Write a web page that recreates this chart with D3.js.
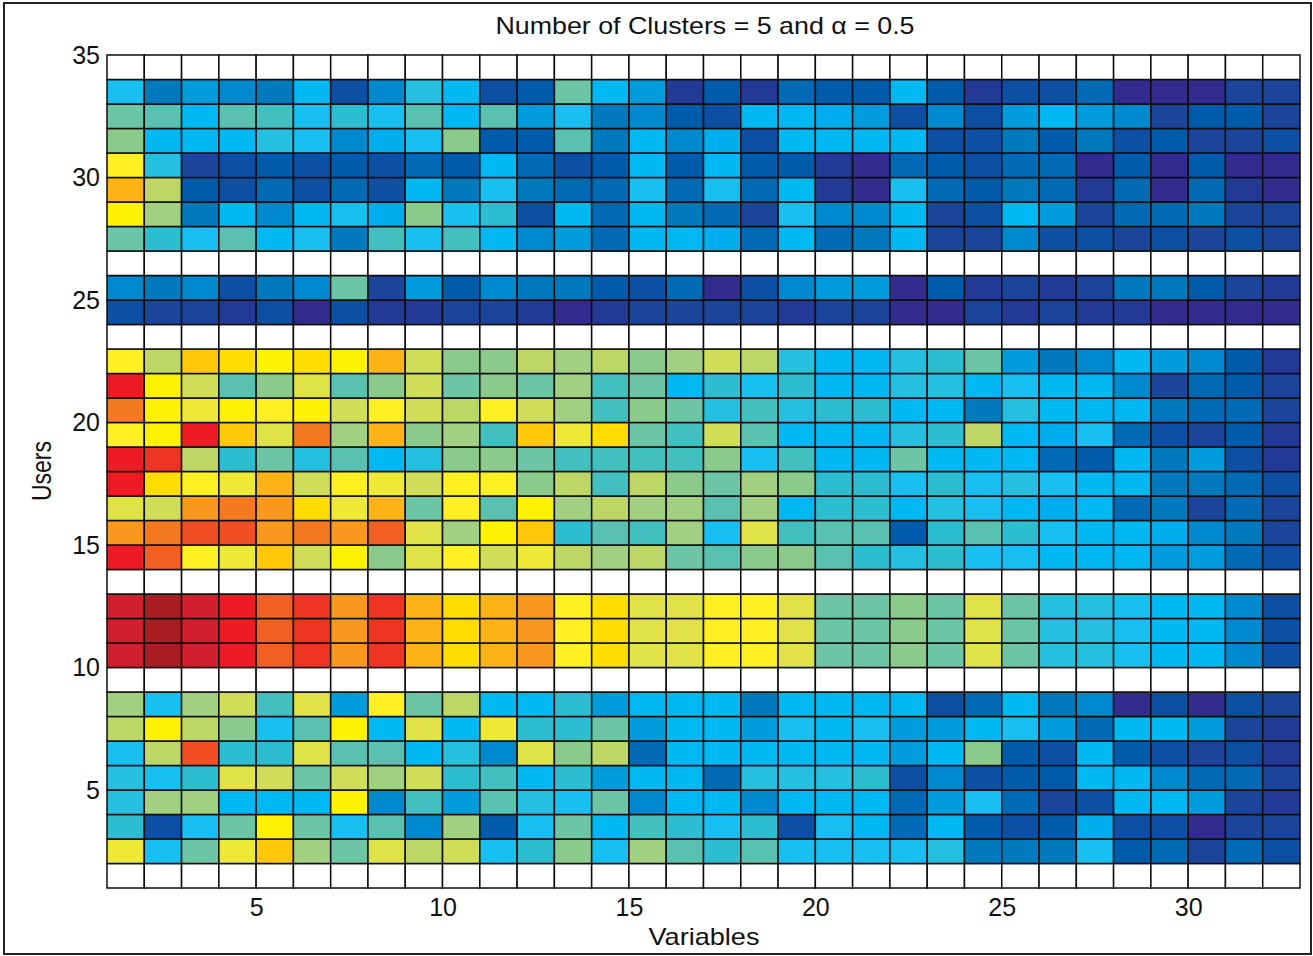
<!DOCTYPE html>
<html>
<head>
<meta charset="utf-8">
<script src="https://cdn.jsdelivr.net/npm/d3@7"></script>
<style>
body { margin: 0; background: #fff; }
text { font-family: "Liberation Sans", Arial, sans-serif; fill: #111; }
.axis text { font-size: 25px; }
.label { font-size: 24px; }
</style>
</head>
<body>
<div id="heatmap"></div>
<script>
// colour levels, one list per user row (lower edge of the row)
const user33 = [11,6,8,7,6,10,3,7,12,10,3,4,16,10,8,1,4,1,5,4,4,10,4,1,3,3,5,0,0,0,2,2];
const user32 = [16,15,10,15,14,11,13,11,15,10,15,8,11,6,7,4,3,10,10,9,8,3,7,3,8,10,8,7,2,4,4,2];
const user31 = [17,10,10,10,12,11,7,9,11,17,4,4,15,6,10,7,9,3,10,10,10,10,3,3,6,4,6,3,4,2,2,3];
const user30 = [23,12,2,3,4,3,4,3,5,4,10,5,3,4,10,4,10,4,4,1,0,5,4,3,5,5,0,4,0,4,0,0];
const user29 = [27,19,4,3,5,3,5,3,10,6,11,6,5,5,11,5,11,5,10,1,0,11,5,4,6,5,1,5,0,5,1,0];
const user28 = [24,18,6,10,7,10,11,9,17,11,13,3,10,5,10,6,5,2,11,7,7,10,2,3,10,8,2,5,5,6,2,2];
const user27 = [16,13,11,15,10,11,6,14,11,14,10,7,8,5,10,10,9,5,10,5,6,10,2,2,7,3,3,2,3,2,3,2];
const user25 = [7,6,7,3,6,7,16,2,8,4,7,6,6,4,3,5,0,3,7,8,8,0,4,1,2,1,2,6,6,4,2,1];
const user24 = [3,2,2,1,3,0,3,1,1,2,2,1,0,1,2,2,2,2,1,2,2,0,0,2,1,2,1,1,0,0,0,0];
const user22 = [23,19,26,25,24,25,24,27,20,17,17,19,18,19,17,18,20,19,12,10,10,12,13,16,8,6,7,10,8,7,4,1];
const user21 = [33,24,20,15,17,21,15,17,20,16,17,16,18,14,16,10,13,11,13,10,10,12,12,10,11,10,10,7,2,5,4,2];
const user20 = [29,24,22,24,23,24,20,23,20,19,23,20,18,14,17,16,12,14,12,13,13,10,10,6,12,10,10,10,6,5,5,2];
const user19 = [23,24,33,26,21,29,18,27,17,18,14,26,22,25,16,14,20,15,10,10,10,12,13,19,10,9,11,5,3,2,4,1];
const user18 = [33,32,19,13,16,12,15,10,12,17,17,16,14,14,14,14,17,11,14,10,10,16,10,10,10,5,4,10,6,8,3,1];
const user17 = [33,25,23,22,27,20,23,22,20,23,23,17,19,14,19,17,16,18,17,13,13,11,13,11,12,11,10,10,6,6,5,3];
const user16 = [21,20,28,29,28,25,22,27,16,23,15,24,18,19,18,18,15,18,10,13,13,10,12,11,10,9,10,5,6,2,5,2];
const user15 = [28,29,31,31,28,29,28,30,21,18,24,26,13,15,14,18,11,21,14,15,15,4,13,15,13,11,10,10,9,7,6,2];
const user14 = [33,30,23,22,26,20,24,17,21,23,20,22,19,18,19,16,15,17,17,15,13,12,13,11,11,10,10,10,8,8,5,3];
const user12 = [34,35,34,33,30,32,28,32,27,25,27,28,23,25,21,21,23,23,21,16,16,17,16,21,16,12,12,11,10,10,7,3];
const user11 = [34,35,34,33,30,32,28,32,27,25,27,28,23,25,21,21,23,23,21,16,16,17,16,21,16,12,12,11,10,10,7,3];
const user10 = [34,35,34,33,30,32,28,32,27,25,27,28,23,25,21,21,23,23,21,16,16,17,16,21,16,12,12,11,10,10,7,3];
const user8 = [18,11,18,20,14,21,8,23,16,19,10,10,13,8,10,10,10,6,10,10,10,10,3,5,10,6,7,0,3,0,3,2];
const user7 = [19,24,19,17,11,15,24,10,21,10,22,13,13,16,8,10,10,8,11,10,11,8,8,10,11,8,5,10,10,8,2,1];
const user6 = [11,19,31,13,13,21,15,15,10,12,7,21,17,19,5,10,10,10,10,10,10,8,10,17,4,3,10,4,3,2,3,1];
const user5 = [12,11,13,21,20,16,20,18,20,13,14,10,13,8,10,10,5,12,12,12,13,3,7,3,4,4,10,10,7,5,5,2];
const user4 = [12,18,18,10,10,10,24,7,14,8,15,12,11,16,7,10,10,7,10,10,10,5,8,11,5,2,3,10,10,8,2,1];
const user3 = [13,3,11,16,24,16,11,15,7,18,4,11,16,10,14,13,11,13,3,11,10,5,10,4,3,4,9,3,3,0,2,2];
const user2 = [22,11,16,22,26,18,16,21,19,20,11,13,17,11,18,15,13,15,11,11,11,11,12,6,6,6,11,4,5,2,5,3];

// rows that are not listed here stay white
const userRows = {
    33: user33, 32: user32, 31: user31, 30: user30, 29: user29, 28: user28, 27: user27,
    25: user25, 24: user24,
    22: user22, 21: user21, 20: user20, 19: user19, 18: user18, 17: user17, 16: user16, 15: user15, 14: user14,
    12: user12, 11: user11, 10: user10,
    8: user8, 7: user7, 6: user6, 5: user5, 4: user4, 3: user3, 2: user2
};

const xTicks = [5, 10, 15, 20, 25, 30];
const yTicks = [5, 10, 15, 20, 25, 30, 35];

const palette = ["#312c8e","#223a96","#1a459b","#0c4fa3","#005cab","#006ab4","#0079bd","#0089cc","#009cdc","#00aeee",
    "#00b9f2","#17c0f0","#25bfe0","#2cbdd0","#42bfbf","#58c1b0","#6cc5a5","#8acb8c","#a0d080","#bcd766",
    "#cfdd58","#dfe345","#eee935","#fef022","#fff200","#ffdd00","#ffc90a","#fcb315","#f8981d","#f47a22",
    "#f15f22","#f04e23","#ee3524","#ed1c24","#d21f2e","#a81c22"];

var svg = d3.select("#heatmap").append("svg")
    .attr("width", 1313)
    .attr("height", 956)
    .style("display", "block");

svg.append("rect")
    .attr("x", 4).attr("y", 3)
    .attr("width", 1307).attr("height", 951)
    .attr("fill", "none")
    .attr("stroke", "#222")
    .attr("stroke-width", 2);

var x = d3.scaleLinear().domain([1, 33]).range([107, 1300]);
var y = d3.scaleLinear().domain([1, 35]).range([888, 55]);
var color = d3.scaleLinear().domain(d3.range(palette.length)).range(palette);

var cells = [];
d3.range(1, 35).forEach(function (u) {
    d3.range(1, 33).forEach(function (v) {
        var row = userRows[u];
        cells.push({ u: u, v: v, level: row ? row[v - 1] : null });
    });
});

svg.append("g").selectAll("rect")
    .data(cells)
    .enter().append("rect")
    .attr("x", function (d) { return x(d.v); })
    .attr("y", function (d) { return y(d.u + 1); })
    .attr("width", function (d) { return x(d.v + 1) - x(d.v); })
    .attr("height", function (d) { return y(d.u) - y(d.u + 1); })
    .attr("fill", function (d) { return d.level === null ? "#fff" : color(d.level); })
    .attr("stroke", "#0c0c0c")
    .attr("stroke-width", 1.5);

var xAxis = svg.append("g")
    .attr("class", "axis")
    .attr("transform", "translate(0,888)")
    .call(d3.axisBottom(x).tickValues(xTicks).tickSize(0).tickPadding(10));
xAxis.select(".domain").remove();

var yAxis = svg.append("g")
    .attr("class", "axis")
    .attr("transform", "translate(107,0)")
    .call(d3.axisLeft(y).tickValues(yTicks).tickSize(0).tickPadding(7));
yAxis.select(".domain").remove();

// the source figure is stretched sideways, so the labels are fitted to its widths
svg.append("text")
    .attr("class", "label")
    .attr("x", 705).attr("y", 34)
    .attr("text-anchor", "middle")
    .attr("textLength", 419)
    .attr("lengthAdjust", "spacingAndGlyphs")
    .text("Number of Clusters = 5 and α = 0.5");

svg.append("text")
    .attr("class", "label")
    .attr("x", 704).attr("y", 945)
    .attr("text-anchor", "middle")
    .attr("textLength", 111)
    .attr("lengthAdjust", "spacingAndGlyphs")
    .text("Variables");

svg.append("text")
    .attr("class", "label")
    .attr("transform", "translate(51,471) rotate(-90)")
    .attr("text-anchor", "middle")
    .style("font-size", "28px")
    .attr("textLength", 60)
    .attr("lengthAdjust", "spacingAndGlyphs")
    .text("Users");
</script>
</body>
</html>
